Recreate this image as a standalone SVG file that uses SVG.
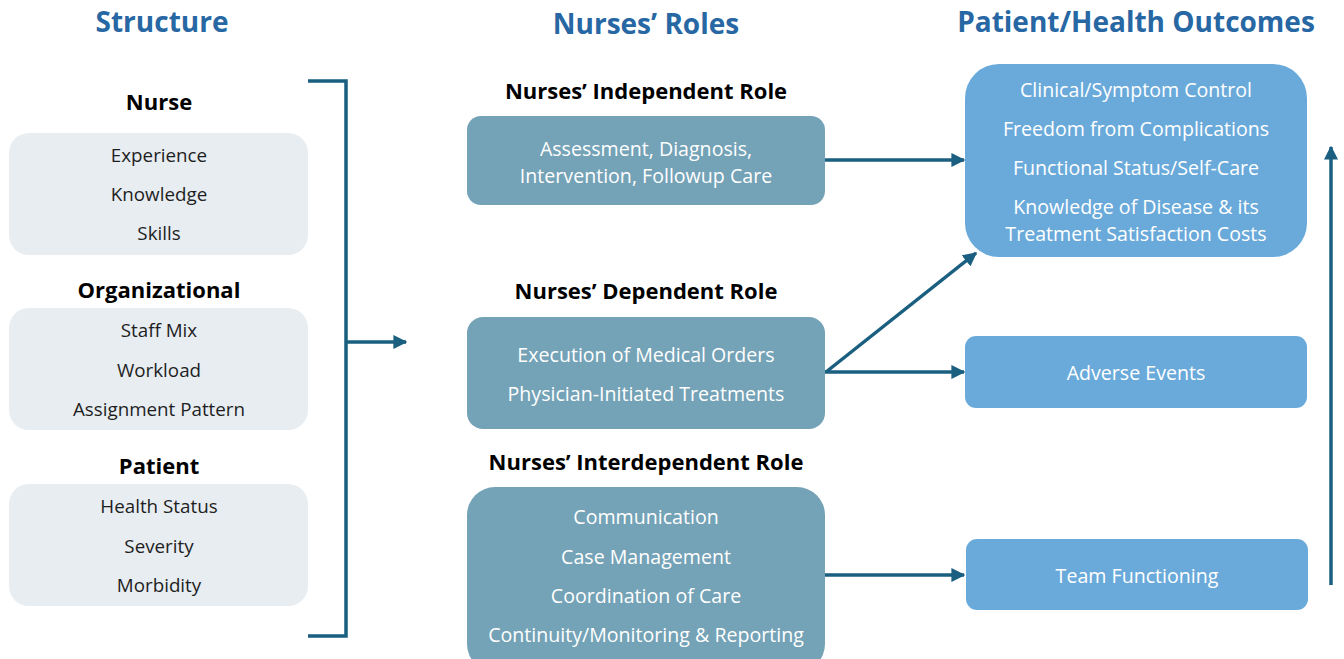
<svg xmlns="http://www.w3.org/2000/svg" width="1344" height="659" viewBox="0 0 1344 659">
<defs>
<style>
.title{font-family:"Open Sans","Liberation Sans",sans-serif;font-weight:700;font-size:28px;fill:#2767a3;text-anchor:middle}
.head{font-family:"Open Sans","Liberation Sans",sans-serif;font-weight:700;font-size:22px;fill:#000;text-anchor:middle;dominant-baseline:central}
.item{font-family:"Open Sans","Liberation Sans",sans-serif;font-size:18.8px;fill:#1e1e1e;text-anchor:middle;dominant-baseline:central}
.wt{font-family:"Open Sans","Liberation Sans",sans-serif;font-size:19.6px;fill:#fff;text-anchor:middle;dominant-baseline:central}
.sbox{fill:#e7edf1}
.rbox{fill:#74a2b6}
.obox{fill:#6aaada}
.conn{stroke:#1a5f80;stroke-width:3.5;fill:none}
</style>
<marker id="ah" viewBox="0 0 10 10" refX="9" refY="5" markerWidth="4" markerHeight="4" orient="auto" markerUnits="strokeWidth">
<path d="M0,0 L10,5 L0,10 z" fill="#1a5f80"/>
</marker>
</defs>
<rect width="1344" height="659" fill="#fff"/>
<text class="title" x="162" y="32">Structure</text>
<text class="title" x="646" y="34">Nurses’ Roles</text>
<text class="title" x="1136" y="32">Patient/Health Outcomes</text>

<g id="nurse">
<text class="head" x="159" y="101">Nurse</text>
<rect class="sbox" x="9" y="133" width="299" height="122" rx="20"/>
<text class="item" x="159" y="155">Experience</text>
<text class="item" x="159" y="194">Knowledge</text>
<text class="item" x="159" y="233">Skills</text>
</g>
<g id="organizational">
<text class="head" x="159" y="289">Organizational</text>
<rect class="sbox" x="9" y="308" width="299" height="122" rx="20"/>
<text class="item" x="159" y="330">Staff Mix</text>
<text class="item" x="159" y="370">Workload</text>
<text class="item" x="159" y="409">Assignment Pattern</text>
</g>
<g id="patient">
<text class="head" x="159" y="465">Patient</text>
<rect class="sbox" x="9" y="484" width="299" height="122" rx="20"/>
<text class="item" x="159" y="506">Health Status</text>
<text class="item" x="159" y="546">Severity</text>
<text class="item" x="159" y="585">Morbidity</text>
</g>

<g id="independent">
<text class="head" x="646" y="90">Nurses’ Independent Role</text>
<rect class="rbox" x="467" y="116" width="358" height="89" rx="14"/>
<text class="wt" x="646" y="148">Assessment, Diagnosis,</text>
<text class="wt" x="646" y="175">Intervention, Followup Care</text>
</g>
<g id="dependent">
<text class="head" x="646" y="290">Nurses’ Dependent Role</text>
<rect class="rbox" x="467" y="317" width="358" height="112" rx="16"/>
<text class="wt" x="646" y="354">Execution of Medical Orders</text>
<text class="wt" x="646" y="393">Physician-Initiated Treatments</text>
</g>
<g id="interdependent">
<text class="head" x="646" y="461">Nurses’ Interdependent Role</text>
<rect class="rbox" x="467" y="487" width="358" height="185" rx="28"/>
<text class="wt" x="646" y="516">Communication</text>
<text class="wt" x="646" y="556">Case Management</text>
<text class="wt" x="646" y="595">Coordination of Care</text>
<text class="wt" x="646" y="634">Continuity/Monitoring &amp; Reporting</text>
</g>

<g id="outcomes">
<rect class="obox" x="965" y="64" width="342" height="193" rx="34"/>
<text class="wt" x="1136" y="89">Clinical/Symptom Control</text>
<text class="wt" x="1136" y="128">Freedom from Complications</text>
<text class="wt" x="1136" y="167">Functional Status/Self-Care</text>
<text class="wt" x="1136" y="206">Knowledge of Disease &amp; its</text>
<text class="wt" x="1136" y="233">Treatment Satisfaction Costs</text>
</g>
<g id="adverse">
<rect class="obox" x="965" y="336" width="342" height="72" rx="11"/>
<text class="wt" x="1136" y="372">Adverse Events</text>
</g>
<g id="team">
<rect class="obox" x="966" y="539" width="342" height="71" rx="11"/>
<text class="wt" x="1137" y="575">Team Functioning</text>
</g>

<g id="connectors">
<path class="conn" d="M308,81 H346 V636 H308"/>
<path class="conn" d="M346,342 H406" marker-end="url(#ah)"/>
<path class="conn" d="M825,160 H964" marker-end="url(#ah)"/>
<path class="conn" d="M825,372 H964" marker-end="url(#ah)"/>
<path class="conn" d="M826,372 L976,253" marker-end="url(#ah)"/>
<path class="conn" d="M825,575 H964" marker-end="url(#ah)"/>
<path class="conn" d="M1331,585 V147" marker-end="url(#ah)"/>
</g>
</svg>
